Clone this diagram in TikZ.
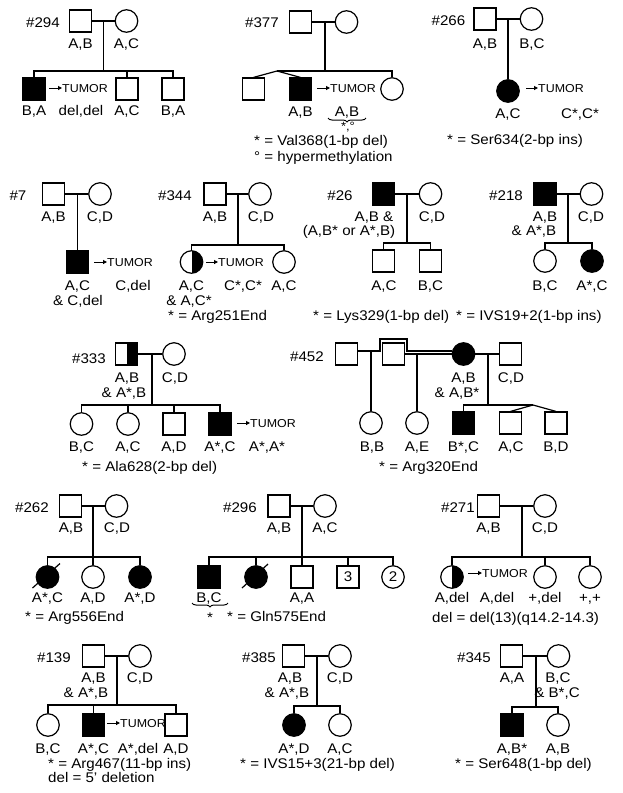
\documentclass[tikz,border=0pt]{standalone}
\usepackage{fontspec}
\setmainfont{Liberation Sans}[FakeStretch=1.08]
\usetikzlibrary{decorations.pathreplacing,arrows.meta}
\newcommand\lblf{\fontsize{14}{16}\selectfont}
\newcommand\tumf{\fontsize{11.5}{13}\selectfont}
\newcommand\smf{\fontsize{12}{13}\selectfont}
\begin{document}
\begin{tikzpicture}[x=1pt,y=-1pt,
  male/.style={draw, rectangle, minimum size=22pt, inner sep=0pt, line width=1.2pt},
  fem/.style={draw, circle, minimum size=22.5pt, inner sep=0pt, line width=1.2pt},
  aff/.style={fill=black},
  half/.style={path picture={\fill[black] (path picture bounding box.north) rectangle (path picture bounding box.south east);}},
  lbl/.style={inner sep=0pt, font=\lblf, text height=10pt, text depth=0pt},
  note/.style={lbl, anchor=west},
  tum/.style={inner sep=0pt, font=\tumf, text height=8.2pt, text depth=0pt, anchor=west},
  tarr/.style={line width=1pt, -{Triangle[length=4pt,width=4pt]}},
  ln/.style={line width=1.2pt},
  brc/.style={decorate, decoration={brace, mirror, amplitude=4pt}, line width=1pt},
  slash/.style={line width=1.2pt},
]
\useasboundingbox (0,0) rectangle (623,793);

% ---------------- #294
\node[lbl] (h294) at (43,22) {\#294};
\node[male] (f294) at (80.5,21) {};
\node[fem] (m294) at (126.5,21) {};
\draw[ln] (f294) -- (m294);
\coordinate (j294) at (103.5,21);
\coordinate (s294) at (103.5,71);
\node[male,aff] (c294a) at (34,89) {};
\node[male] (c294b) at (127,89) {};
\node[male] (c294c) at (173,89) {};
\draw[ln] (j294) -- (s294);
\draw[ln] (c294a.north) |- (s294) -| (c294c.north);
\draw[ln] (c294b.north) -- (c294b.north |- s294);
\node[lbl] (l294a) at (80.5,43) {A,B};
\node[lbl] (l294b) at (126.5,43) {A,C};
\node[lbl] (l294c) at (34,110) {B,A};
\node[lbl] (l294d) at (81,110) {del,del};
\node[lbl] (l294e) at (127,110) {A,C};
\node[lbl] (l294f) at (173,110) {B,A};
\node[tum] (t294) at (62,88) {TUMOR};
\coordinate (a294) at (49,88);
\draw[tarr] (a294) -- (t294.west);

% ---------------- #377
\node[lbl] (h377) at (262,22) {\#377};
\node[male] (f377) at (300.5,22) {};
\node[fem] (m377) at (346.5,22) {};
\draw[ln] (f377) -- (m377);
\coordinate (j377) at (325,22);
\coordinate (s377) at (325,71);
\coordinate (p377) at (277,71);
\node[male] (c377a) at (253.5,89) {};
\node[male,aff] (c377b) at (300.5,89) {};
\node[fem] (c377c) at (392,89) {};
\draw[ln] (j377) -- (s377);
\draw[ln] (p377) -| (c377c.north);
\draw[ln] (p377) -- (c377a.north);
\draw[ln] (p377) -- (c377b.north);
\node[lbl] (l377a) at (300.5,111) {A,B};
\node[lbl] (l377b) at (347,111) {A,B};
\coordinate (b377a) at (328,118);
\coordinate (b377b) at (366,118);
\draw[brc] (b377a) -- (b377b);
\node[inner sep=0pt, font=\smf, text height=8pt, text depth=0pt] (l377c) at (348,126) {*,°};
\node[tum] (t377) at (330,88) {TUMOR};
\coordinate (a377) at (317,88);
\draw[tarr] (a377) -- (t377.west);
\node[note] (n377a) at (254,140) {* = Val368(1-bp del)};
\node[note] (n377b) at (254,156) {° = hypermethylation};

% ---------------- #266
\node[lbl] (h266) at (448.5,20) {\#266};
\node[male] (f266) at (485,19) {};
\node[fem] (m266) at (531.5,19) {};
\draw[ln] (f266) -- (m266);
\coordinate (j266) at (508,19);
\node[fem,aff] (c266) at (508,91) {};
\draw[ln] (j266) -- (c266.north);
\node[lbl] (l266a) at (485,43) {A,B};
\node[lbl] (l266b) at (532,43) {B,C};
\node[lbl] (l266c) at (508,113) {A,C};
\node[lbl] (l266d) at (580,113) {C*,C*};
\node[tum] (t266) at (538,88) {TUMOR};
\coordinate (a266) at (526,88);
\draw[tarr] (a266) -- (t266.west);
\node[note] (n266) at (447,139) {* = Ser634(2-bp ins)};

% ---------------- #7
\node[lbl] (h7) at (18,195) {\#7};
\node[male] (f7) at (53.5,194) {};
\node[fem] (m7) at (100,194) {};
\draw[ln] (f7) -- (m7);
\coordinate (j7) at (77.5,194);
\node[male,aff] (c7) at (77.5,262) {};
\draw[ln] (j7) -- (c7.north);
\node[lbl] (l7a) at (53.5,216) {A,B};
\node[lbl] (l7b) at (100,216) {C,D};
\node[lbl] (l7c) at (77.5,285) {A,C};
\node[lbl] (l7d) at (133,285) {C,del};
\node[lbl] (l7e) at (78,300) {\& C,del};
\node[tum] (t7) at (107,262) {TUMOR};
\coordinate (a7) at (94,262);
\draw[tarr] (a7) -- (t7.west);

% ---------------- #344
\node[lbl] (h344) at (175,195) {\#344};
\node[male] (f344) at (215,194) {};
\node[fem] (m344) at (260,194) {};
\draw[ln] (f344) -- (m344);
\coordinate (j344) at (238,194);
\coordinate (s344) at (238,245);
\node[fem,half] (c344a) at (191.5,262) {};
\node[fem] (c344b) at (284,262) {};
\draw[ln] (j344) -- (s344);
\draw[ln] (c344a.north) |- (s344) -| (c344b.north);
\node[lbl] (l344a) at (215,216) {A,B};
\node[lbl] (l344b) at (261,216) {C,D};
\node[lbl] (l344c) at (191.5,285) {A,C};
\node[lbl] (l344d) at (243,285) {C*,C*};
\node[lbl] (l344e) at (284,285) {A,C};
\node[lbl] (l344f) at (189,300) {\& A,C*};
\node[note] (n344) at (168,315) {* = Arg251End};
\node[tum] (t344) at (218,262) {TUMOR};
\coordinate (a344) at (206,262);
\draw[tarr] (a344) -- (t344.west);

% ---------------- #26
\node[lbl] (h26) at (340,195) {\#26};
\node[male,aff] (f26) at (383.5,194) {};
\node[fem] (m26) at (430.5,194) {};
\draw[ln] (f26) -- (m26);
\coordinate (j26) at (407,194);
\coordinate (s26) at (407,243);
\node[male] (c26a) at (383.5,261) {};
\node[male] (c26b) at (430.5,261) {};
\draw[ln] (j26) -- (s26);
\draw[ln] (c26a.north) |- (s26) -| (c26b.north);
\node[lbl] (l26a) at (374,216) {A,B \&};
\node[lbl] (l26b) at (349,230) {(A,B* or A*,B)};
\node[lbl] (l26c) at (432,216) {C,D};
\node[lbl] (l26d) at (384,285) {A,C};
\node[lbl] (l26e) at (430.5,285) {B,C};
\node[note] (n26) at (313,315) {* = Lys329(1-bp del)};

% ---------------- #218
\node[lbl] (h218) at (506,195) {\#218};
\node[male,aff] (f218) at (545,194) {};
\node[fem] (m218) at (591.5,194) {};
\draw[ln] (f218) -- (m218);
\coordinate (j218) at (568,194);
\coordinate (s218) at (568,243);
\node[fem] (c218a) at (545,261) {};
\node[fem,aff] (c218b) at (592,261) {};
\draw[ln] (j218) -- (s218);
\draw[ln] (c218a.north) |- (s218) -| (c218b.north);
\node[lbl] (l218a) at (545,216) {A,B};
\node[lbl] (l218b) at (534,230) {\& A*,B};
\node[lbl] (l218c) at (591,216) {C,D};
\node[lbl] (l218d) at (545,285) {B,C};
\node[lbl] (l218e) at (592,285) {A*,C};
\node[note] (n218) at (456,315) {* = IVS19+2(1-bp ins)};

% ---------------- #333
\node[lbl] (h333) at (89,358) {\#333};
\node[male,half] (f333) at (126.5,354) {};
\node[fem] (m333) at (174,354) {};
\draw[ln] (f333) -- (m333);
\coordinate (j333) at (152,354);
\coordinate (s333) at (152,405);
\node[fem] (c333a) at (81.5,424) {};
\node[fem] (c333b) at (128,424) {};
\node[male] (c333c) at (174,424) {};
\node[male,aff] (c333d) at (220,424) {};
\draw[ln] (j333) -- (s333);
\draw[ln] (c333a.north) |- (s333) -| (c333d.north);
\draw[ln] (c333b.north) -- (c333b.north |- s333);
\draw[ln] (c333c.north) -- (c333c.north |- s333);
\node[lbl] (l333a) at (127,377) {A,B};
\node[lbl] (l333b) at (124,392) {\& A*,B};
\node[lbl] (l333c) at (175,377) {C,D};
\node[lbl] (l333d) at (81.5,446) {B,C};
\node[lbl] (l333e) at (128,446) {A,C};
\node[lbl] (l333f) at (174,446) {A,D};
\node[lbl] (l333g) at (220,446) {A*,C};
\node[lbl] (l333h) at (267,446) {A*,A*};
\node[tum] (t333) at (250,423) {TUMOR};
\coordinate (a333) at (237,423);
\draw[tarr] (a333) -- (t333.west);
\node[note] (n333) at (82,466) {* = Ala628(2-bp del)};

% ---------------- #452
\node[lbl] (h452) at (307,356) {\#452};
\node[male] (f452a) at (346.5,354) {};
\node[male] (f452b) at (393.5,354) {};
\node[fem,aff] (m452) at (463.5,354) {};
\node[male] (f452c) at (510.5,354) {};
\coordinate (b452a) at (380,339);
\coordinate (b452b) at (407,339);
\draw[ln] ([yshift=3pt]f452a.east) -| (b452a) -- (b452b) |- (m452.165);
\draw[ln] (f452b) -- (m452);
\draw[ln] (m452) -- (f452c);
\coordinate (j452a) at (371,351);
\coordinate (j452b) at (417,354);
\coordinate (j452c) at (488,354);
\coordinate (s452) at (488,405);
\coordinate (p452) at (533,405);
\node[fem] (c452a) at (371,423) {};
\node[fem] (c452b) at (417,423) {};
\node[male,aff] (c452c) at (463.5,423) {};
\node[male] (c452d) at (510.5,423) {};
\node[male] (c452e) at (556,423) {};
\draw[ln] (j452a) -- (c452a.north);
\draw[ln] (j452b) -- (c452b.north);
\draw[ln] (j452c) -- (s452);
\draw[ln] (c452c.north) |- (p452);
\draw[ln] (p452) -- (c452d.north);
\draw[ln] (p452) -- (c452e.north);
\node[lbl] (l452a) at (463.5,377) {A,B};
\node[lbl] (l452b) at (457,392) {\& A,B*};
\node[lbl] (l452c) at (511,377) {C,D};
\node[lbl] (l452d) at (372,446) {B,B};
\node[lbl] (l452e) at (417,446) {A,E};
\node[lbl] (l452f) at (463.5,446) {B*,C};
\node[lbl] (l452g) at (511,446) {A,C};
\node[lbl] (l452h) at (556,446) {B,D};
\node[note] (n452) at (379,466) {* = Arg320End};

% ---------------- #262
\node[lbl] (h262) at (32,507) {\#262};
\node[male] (f262) at (70.5,506) {};
\node[fem] (m262) at (116.5,506) {};
\draw[ln] (f262) -- (m262);
\coordinate (j262) at (93,506);
\coordinate (s262) at (93,557);
\node[fem,aff] (c262a) at (47.5,577) {};
\node[fem] (c262b) at (93,577) {};
\node[fem,aff] (c262c) at (140,577) {};
\draw[ln] (j262) -- (c262b.north);
\draw[ln] (c262a.north) |- (s262) -| (c262c.north);
\draw[slash] ([shift={(-15,11)}]c262a.center) -- ([shift={(12.5,-13.5)}]c262a.center);
\node[lbl] (l262a) at (71,527) {A,B};
\node[lbl] (l262b) at (117,527) {C,D};
\node[lbl] (l262c) at (47.5,597) {A*,C};
\node[lbl] (l262d) at (93,597) {A,D};
\node[lbl] (l262e) at (140,597) {A*,D};
\node[note] (n262) at (25,616) {* = Arg556End};

% ---------------- #296
\node[lbl] (h296) at (240,507) {\#296};
\node[male] (f296) at (279,506) {};
\node[fem] (m296) at (325,506) {};
\draw[ln] (f296) -- (m296);
\coordinate (j296) at (302,506);
\coordinate (s296) at (302,557);
\node[male,aff] (c296a) at (209,577) {};
\node[fem,aff] (c296b) at (256,577) {};
\node[male] (c296c) at (302,577) {};
\node[male,font=\lblf] (c296d) at (348,577) {3};
\node[fem,font=\lblf] (c296e) at (393,577) {2};
\draw[ln] (j296) -- (c296c.north);
\draw[ln] (c296a.north) |- (s296) -| (c296e.north);
\draw[ln] (c296b.north) -- (c296b.north |- s296);
\draw[ln] (c296d.north) -- (c296d.north |- s296);
\draw[slash] ([shift={(-14,11)}]c296b.center) -- ([shift={(12,-13)}]c296b.center);
\node[lbl] (l296a) at (279,527) {A,B};
\node[lbl] (l296b) at (325,527) {A,C};
\node[lbl] (l296c) at (209,597) {B,C};
\coordinate (b296a) at (192,603);
\coordinate (b296b) at (228,603);
\draw[brc] (b296a) -- (b296b);
\node[lbl] (l296d) at (210,617) {*};
\node[lbl] (l296e) at (302,597) {A,A};
\node[note] (n296) at (227,616) {* = Gln575End};

% ---------------- #271
\node[lbl] (h271) at (458,507) {\#271};
\node[male] (f271) at (488.5,506) {};
\node[fem] (m271) at (545,506) {};
\draw[ln] (f271) -- (m271);
\coordinate (j271) at (522,506);
\coordinate (s271) at (522,557);
\node[fem,half] (c271a) at (452,577) {};
\node[fem] (c271b) at (545,577) {};
\node[fem] (c271c) at (590,577) {};
\draw[ln] (j271) -- (s271);
\draw[ln] (c271a.north) |- (s271) -| (c271c.north);
\draw[ln] (c271b.north) -- (c271b.north |- s271);
\node[lbl] (l271a) at (488.5,527) {A,B};
\node[lbl] (l271b) at (545,527) {C,D};
\node[lbl] (l271c) at (452,597) {A,del};
\node[lbl] (l271d) at (497,597) {A,del};
\node[lbl] (l271e) at (545,597) {+,del};
\node[lbl] (l271f) at (590,597) {+,+};
\node[note] (n271) at (432,617) {del = del(13)(q14.2-14.3)};
\node[tum] (t271) at (482,573) {TUMOR};
\coordinate (a271) at (468,573);
\draw[tarr] (a271) -- (t271.west);

% ---------------- #139
\node[lbl] (h139) at (54,657) {\#139};
\node[male] (f139) at (93.5,656) {};
\node[fem] (m139) at (140,656) {};
\draw[ln] (f139) -- (m139);
\coordinate (j139) at (117,656);
\coordinate (s139) at (117,705);
\node[fem] (c139a) at (48,725) {};
\node[male,aff] (c139b) at (93.5,725) {};
\node[male] (c139c) at (176,725) {};
\draw[ln] (j139) -- (s139);
\draw[ln] (c139a.north) |- (s139) -| (c139c.north);
\draw[ln] (c139b.north) -- (c139b.north |- s139);
\node[lbl] (l139a) at (93.5,677) {A,B};
\node[lbl] (l139b) at (86,692) {\& A*,B};
\node[lbl] (l139c) at (140,677) {C,D};
\node[lbl] (l139d) at (48,748) {B,C};
\node[lbl] (l139e) at (93.5,748) {A*,C};
\node[lbl] (l139f) at (138,748) {A*,del};
\node[lbl] (l139g) at (176,748) {A,D};
\node[tum] (t139) at (120,723) {TUMOR};
\coordinate (a139) at (107,723);
\draw[tarr] (a139) -- (t139.west);
\node[note] (n139a) at (48,763) {* = Arg467(11-bp ins)};
\node[note] (n139b) at (48,777) {del = 5' deletion};

% ---------------- #385
\node[lbl] (h385) at (259,657) {\#385};
\node[male] (f385) at (293.5,656) {};
\node[fem] (m385) at (340,656) {};
\draw[ln] (f385) -- (m385);
\coordinate (j385) at (317,656);
\coordinate (s385) at (317,706);
\node[fem,aff] (c385a) at (294,725) {};
\node[fem] (c385b) at (340,725) {};
\draw[ln] (j385) -- (s385);
\draw[ln] (c385a.north) |- (s385) -| (c385b.north);
\node[lbl] (l385a) at (290,677) {A,B};
\node[lbl] (l385b) at (287,692) {\& A*,B};
\node[lbl] (l385c) at (340,677) {C,D};
\node[lbl] (l385d) at (294,748) {A*,D};
\node[lbl] (l385e) at (340,748) {A,C};
\node[note] (n385) at (240,763) {* = IVS15+3(21-bp del)};

% ---------------- #345
\node[lbl] (h345) at (474,657) {\#345};
\node[male] (f345) at (511.5,656) {};
\node[fem] (m345) at (558.5,656) {};
\draw[ln] (f345) -- (m345);
\coordinate (j345) at (536,656);
\coordinate (s345) at (536,707);
\node[male,aff] (c345a) at (512,725) {};
\node[fem] (c345b) at (558,725) {};
\draw[ln] (j345) -- (s345);
\draw[ln] (c345a.north) |- (s345) -| (c345b.north);
\node[lbl] (l345a) at (512,677) {A,A};
\node[lbl] (l345b) at (558,677) {B,C};
\node[lbl] (l345c) at (557,692) {\& B*,C};
\node[lbl] (l345d) at (512,748) {A,B*};
\node[lbl] (l345e) at (558,748) {A,B};
\node[note] (n345) at (455,763) {* = Ser648(1-bp del)};
\end{tikzpicture}
\end{document}
